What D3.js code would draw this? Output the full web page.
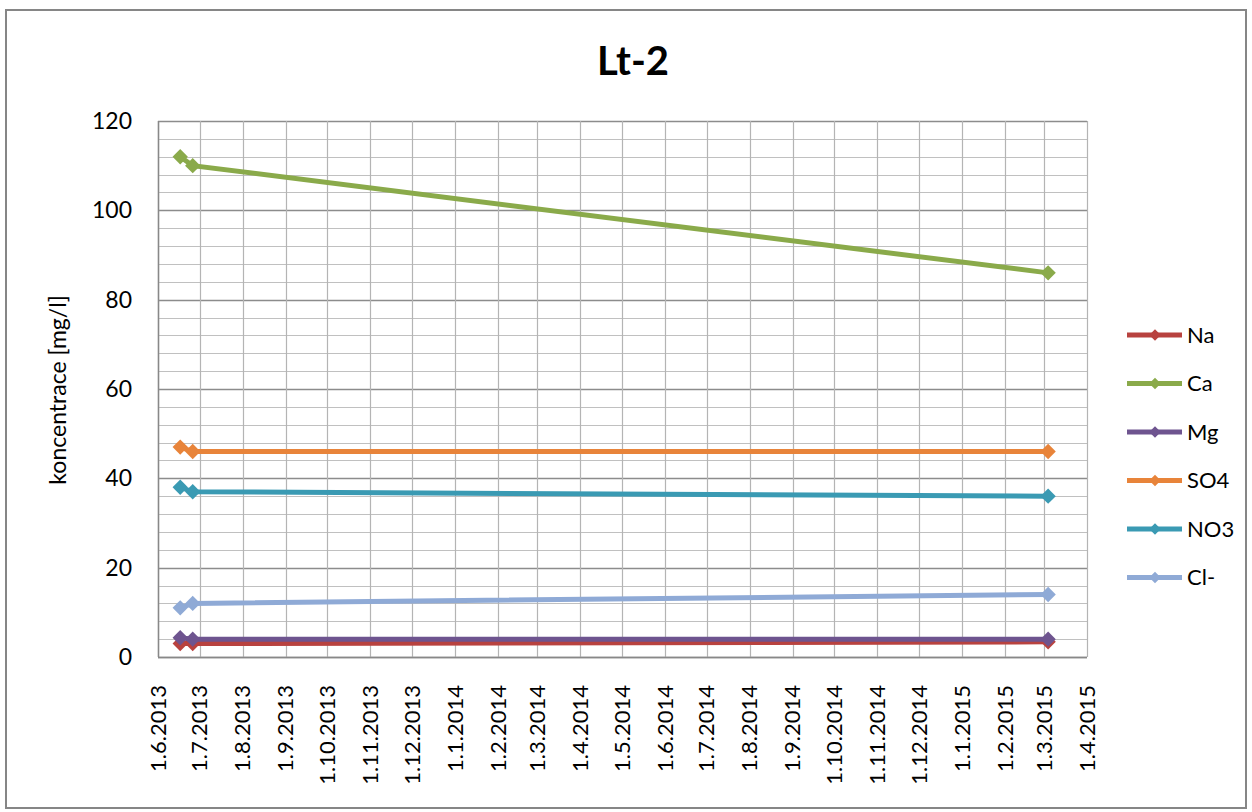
<!DOCTYPE html>
<html>
<head>
<meta charset="utf-8">
<script src="https://cdn.jsdelivr.net/npm/d3@7"></script>
<style>
  body { margin: 0; background: #fff; }
  svg { font-family: Lato, "Open Sans", sans-serif; }
</style>
</head>
<body>
<svg class="chart"></svg>
<script>
var width = 1252,
	height = 812,
	plotLeft = 158, plotRight = 1087, plotTop = 121, plotBottom = 657;

// sampling dates and measured values
var dates = ["2013-06-17", "2013-06-26", "2015-03-04"];
var seriesNames = ["Na", "Ca", "Mg", "SO4", "NO3", "Cl-"];
var colors = ["#B8423F", "#8AAA4A", "#6E548F", "#E8843A", "#3A9AB3", "#8FAAD6"];
var na = [3, 3, 3.4];
var ca = [112, 110, 86];
var mg = [4.3, 4, 4];
var so4 = [47, 46, 46];
var no3 = [38, 37, 36];
var cl = [11, 12, 14];
var yTicks = [0, 20, 40, 60, 80, 100, 120];

var parse = d3.timeParse("%Y-%m-%d");
var values = [na, ca, mg, so4, no3, cl];
var series = seriesNames.map(function(n, i) {
	return { name: n, color: colors[i], points: values[i].map(function(v, j) { return { date: parse(dates[j]), v: v }; }) };
});

var x = d3.scaleTime()
	.domain([new Date(2013, 5, 1), new Date(2015, 3, 1)])
	.range([plotLeft, plotRight]);
var y = d3.scaleLinear()
	.domain([0, 120])
	.range([plotBottom, plotTop]);

var chart = d3.select(".chart")
	.attr("width", width)
	.attr("height", height);

// outer frame
chart.append("rect")
	.attr("x", 6).attr("y", 10)
	.attr("width", 1240).attr("height", 798)
	.attr("fill", "#fff")
	.attr("stroke", "#868686")
	.attr("stroke-width", 2);

// grid
var months = d3.timeMonth.range(x.domain()[0], d3.timeDay.offset(x.domain()[1], 1));
chart.append("g").selectAll("line")
	.data(d3.range(0, 121, 4))
	.enter().append("line")
	.attr("x1", plotLeft).attr("x2", plotRight)
	.attr("y1", function(d) { return Math.round(y(d)) + 0.5; })
	.attr("y2", function(d) { return Math.round(y(d)) + 0.5; })
	.attr("stroke", function(d) { return d % 20 === 0 ? "#8c8c8c" : "#c0c0c0"; })
	.attr("stroke-width", function(d) { return d % 20 === 0 ? 1.3 : 1; });

chart.append("g").selectAll("line")
	.data(months)
	.enter().append("line")
	.attr("y1", plotTop).attr("y2", plotBottom)
	.attr("x1", function(d) { return Math.round(x(d)) + 0.5; })
	.attr("x2", function(d) { return Math.round(x(d)) + 0.5; })
	.attr("stroke", "#b4b4b4")
	.attr("stroke-width", 1.2);

// axis lines
chart.append("line")
	.attr("x1", plotLeft + 0.5).attr("x2", plotLeft + 0.5)
	.attr("y1", plotTop).attr("y2", plotBottom)
	.attr("stroke", "#888").attr("stroke-width", 1.5);
chart.append("line")
	.attr("x1", plotLeft).attr("x2", plotRight)
	.attr("y1", plotBottom + 0.5).attr("y2", plotBottom + 0.5)
	.attr("stroke", "#888").attr("stroke-width", 1.5);

// y tick labels
chart.append("g").selectAll("text")
	.data(yTicks)
	.enter().append("text")
	.attr("x", 132)
	.attr("y", function(d) { return y(d); })
	.attr("dy", ".35em")
	.attr("text-anchor", "end")
	.attr("font-size", 23)
	.text(function(d) { return d; });

// x tick labels (rotated)
var fmt = function(d) { return d.getDate() + "." + (d.getMonth() + 1) + "." + d.getFullYear(); };
chart.append("g").selectAll("text")
	.data(months)
	.enter().append("text")
	.attr("transform", function(d) { return "translate(" + x(d) + ",685) rotate(-90)"; })
	.attr("dy", ".35em")
	.attr("text-anchor", "end")
	.attr("font-size", 22)
	.text(fmt);

// axis title
chart.append("text")
	.attr("transform", "translate(58,390) rotate(-90)")
	.attr("dy", ".35em")
	.attr("text-anchor", "middle")
	.attr("font-size", 23)
	.text("koncentrace [mg/l]");

// chart title
chart.append("text")
	.attr("x", 633).attr("y", 75)
	.attr("text-anchor", "middle")
	.attr("font-size", 40)
	.attr("font-weight", "bold")
	.text("Lt-2");

var line = d3.line()
	.x(function(d) { return x(d.date); })
	.y(function(d) { return y(d.v); });

var diamond = d3.symbol().type(d3.symbolDiamond2).size(150);
var smallDiamond = d3.symbol().type(d3.symbolDiamond2).size(85);

var g = chart.selectAll(".series")
	.data(series)
  .enter().append("g")
	.attr("class", "series");

g.append("path")
	.attr("d", function(d) { return line(d.points); })
	.attr("fill", "none")
	.attr("stroke", function(d) { return d.color; })
	.attr("stroke-width", 5);

g.selectAll("path.m")
	.data(function(d) { return d.points.map(function(p) { return { p: p, color: d.color }; }); })
  .enter().append("path")
	.attr("class", "m")
	.attr("transform", function(d) { return "translate(" + x(d.p.date) + "," + y(d.p.v) + ")"; })
	.attr("d", diamond)
	.attr("fill", function(d) { return d.color; });

// legend
var legend = chart.selectAll(".legend")
	.data(series)
  .enter().append("g")
	.attr("class", "legend")
	.attr("transform", function(d, i) { return "translate(1127," + (335 + i * 48.5) + ")"; });

legend.append("line")
	.attr("x1", 0).attr("x2", 55)
	.attr("stroke", function(d) { return d.color; })
	.attr("stroke-width", 5);
legend.append("path")
	.attr("transform", "translate(28,0)")
	.attr("d", smallDiamond)
	.attr("fill", function(d) { return d.color; });
legend.append("text")
	.attr("x", 60)
	.attr("dy", ".35em")
	.attr("font-size", 22)
	.text(function(d) { return d.name; });
</script>
</body>
</html>
